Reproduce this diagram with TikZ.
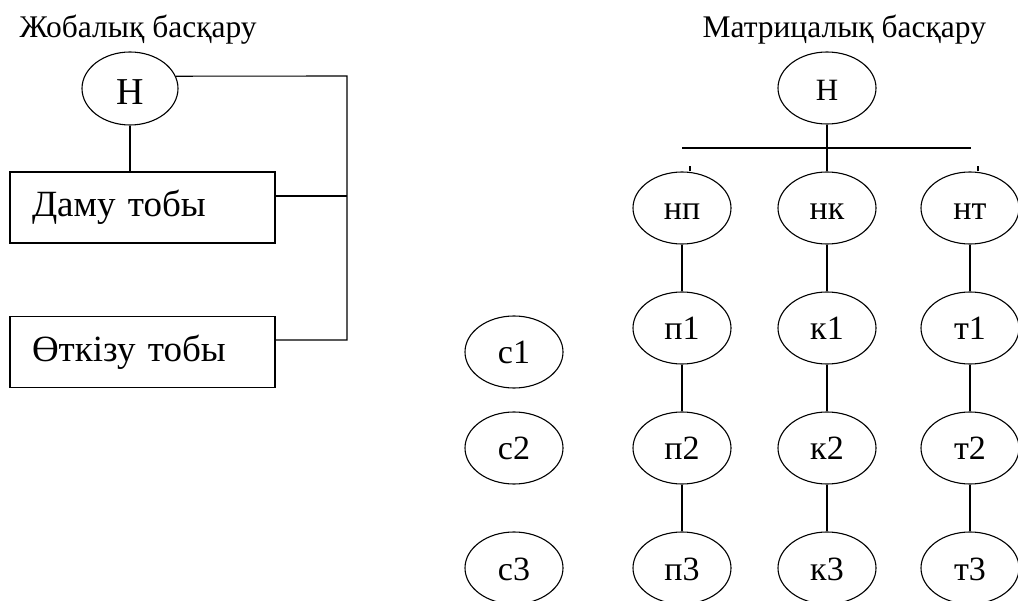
\documentclass[tikz,border=0pt]{standalone}
\usepackage{fontspec}
\setmainfont{Liberation Serif}
\usetikzlibrary{shapes.geometric}

\begin{document}
\begin{tikzpicture}[x=1pt, y=-1pt, line width=1.1pt,
  oval/.style={draw, ellipse, inner sep=0pt, minimum width=98pt, minimum height=72pt,
    font=\fontsize{34}{36}\selectfont, text height=24pt, text depth=0pt},
  box/.style={draw, rectangle, inner xsep=22pt, inner ysep=0pt, text width=221pt,
    minimum height=71pt, align=left, font=\fontsize{37}{40}\selectfont,
    text height=19pt, text depth=0pt},
  title/.style={anchor=base west, inner sep=0pt, font=\fontsize{31.5}{34}\selectfont}]
  \useasboundingbox (0,0) rectangle (1018,601);

  \def\Xbus{347};
  \def\Xp{682};
  \def\Xk{827};
  \def\Xt{970};
  \def\Xc{514};

  \def\Ytop{88};
  \def\Ybar{148};
  \def\Yn{208};
  \def\Ya{328};
  \def\Yb{448};
  \def\Yc{568};

  % project management
  \node[title] (tl) at (19,38) {Жобалық басқару};
  \node[oval, minimum width=96pt, minimum height=73pt,
        font=\fontsize{38}{40}\selectfont, text height=33pt] (Hl) at (130,88.5) {Н};
  \node[box] (dev) at (142.5,207.5) {Даму тобы};
  \node[box] (run) at (142.5,352) {Өткізу тобы};

  \coordinate (busT) at (\Xbus,76);
  \coordinate (busB) at (\Xbus,340);
  \draw (Hl.south) -- (Hl.south |- dev.north);
  \draw (Hl.15) -- (busT) -- (busB) -- (busB -| run.east);
  \draw ([yshift=11.5pt]dev.east) -- ([yshift=11.5pt]dev.east -| busT);

  % matrix management
  \node[title] (tr) at (702,38) {Матрицалық басқару};
  \node[oval, font=\fontsize{31}{33}\selectfont, text height=25pt] (Hr) at (\Xk,\Ytop) {Н};

  \node[oval] (np) at (\Xp,\Yn) {нп};
  \node[oval] (nk) at (\Xk,\Yn) {нк};
  \node[oval] (nt) at (\Xt,\Yn) {нт};

  \node[oval] (p1) at (\Xp,\Ya) {п1};
  \node[oval] (p2) at (\Xp,\Yb) {п2};
  \node[oval] (p3) at (\Xp,\Yc) {п3};
  \node[oval] (k1) at (\Xk,\Ya) {к1};
  \node[oval] (k2) at (\Xk,\Yb) {к2};
  \node[oval] (k3) at (\Xk,\Yc) {к3};
  \node[oval] (t1) at (\Xt,\Ya) {т1};
  \node[oval] (t2) at (\Xt,\Yb) {т2};
  \node[oval] (t3) at (\Xt,\Yc) {т3};

  \node[oval] (c1) at (\Xc,352) {с1};
  \node[oval] (c2) at (\Xc,\Yb) {с2};
  \node[oval] (c3) at (\Xc,\Yc) {с3};

  % bar
  \coordinate (barL) at (682,\Ybar);
  \coordinate (barR) at (971,\Ybar);
  \draw (barL) -- (barR);
  \draw (Hr.south) -- (nk.north);
  \draw ([xshift=8pt]np.north) -- ++(0,-5);
  \draw ([xshift=8pt]nt.north) -- ++(0,-5);

  % columns
  \draw (np) -- (p1) -- (p2) -- (p3);
  \draw (nk) -- (k1) -- (k2) -- (k3);
  \draw (nt) -- (t1) -- (t2) -- (t3);

\end{tikzpicture}
\end{document}
